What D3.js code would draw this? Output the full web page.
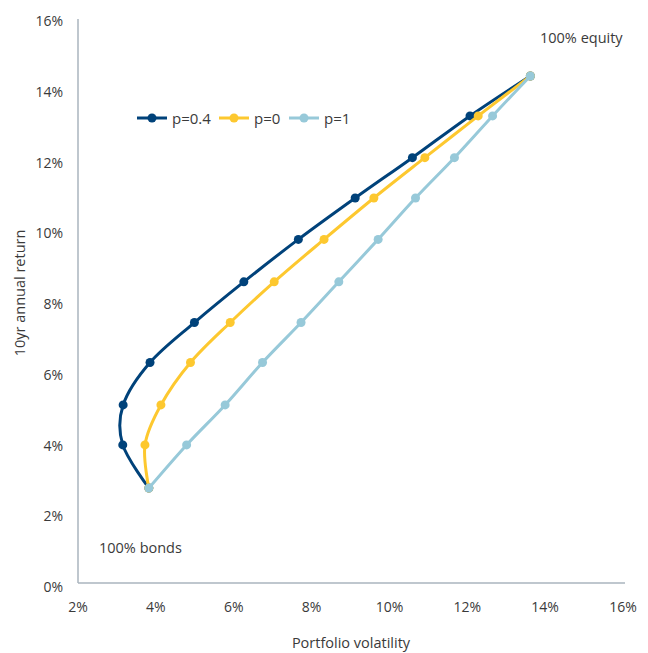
<!DOCTYPE html>
<html>
<head>
<meta charset="utf-8">
<script src="https://cdn.jsdelivr.net/npm/d3@7"></script>
<style>
  body { margin: 0; background: #fff; }
  text { font-family: "Open Sans", sans-serif; fill: #3a3a3a; }
  .axis-line { stroke: #aab4be; stroke-width: 1.5; }
</style>
</head>
<body>
<div id="container"></div>
<script>
const width = 648, height = 653

// returns (same for every correlation), 0% .. 100% equity
const returns = [2.74, 3.96, 5.09, 6.29, 7.42, 8.57, 9.77, 10.94, 12.08, 13.26, 14.39]
// portfolio volatility per correlation
const volP04 = [3.82, 3.15, 3.16, 3.85, 4.99, 6.26, 7.66, 9.12, 10.59, 12.07, 13.62]
const volP0 = [3.82, 3.72, 4.13, 4.89, 5.91, 7.04, 8.32, 9.60, 10.91, 12.28, 13.62]
const volP1 = [3.82, 4.79, 5.78, 6.74, 7.73, 8.70, 9.71, 10.67, 11.67, 12.65, 13.62]

const seriesNames = ["p=0.4", "p=0", "p=1"]
const seriesColors = ["#00427a", "#fdc82f", "#97c9d9"]

const xTicks = [2, 4, 6, 8, 10, 12, 14, 16]
const yTicks = [0, 2, 4, 6, 8, 10, 12, 14, 16]

const x = d3.scaleLinear().domain([2, 16]).range([78, 623])
const y = d3.scaleLinear().domain([0, 16]).range([585, 19])

const svg = d3.select("#container").append("svg")
    .attr("width", width)
    .attr("height", height)

// axes
svg.append("line").attr("class", "axis-line")
    .attr("x1", x(2)).attr("x2", x(2)).attr("y1", y(16)).attr("y2", y(0) - 2)
svg.append("line").attr("class", "axis-line")
    .attr("x1", x(2)).attr("x2", 625).attr("y1", y(0) - 2).attr("y2", y(0) - 2)

svg.selectAll(".ytick").data(yTicks).enter().append("text")
    .attr("class", "ytick")
    .attr("x", 63)
    .attr("y", d => y(d) + 7)
    .attr("text-anchor", "end")
    .style("font-size", "14px")
    .text(d => d + "%")

svg.selectAll(".xtick").data(xTicks).enter().append("text")
    .attr("class", "xtick")
    .attr("x", d => x(d))
    .attr("y", 612)
    .attr("text-anchor", "middle")
    .style("font-size", "14px")
    .text(d => d + "%")

svg.append("text")
    .attr("x", 351).attr("y", 648)
    .attr("text-anchor", "middle")
    .style("font-size", "14.5px")
    .text("Portfolio volatility")

svg.append("text")
    .attr("transform", "translate(25,293) rotate(-90)")
    .attr("text-anchor", "middle")
    .style("font-size", "14.5px")
    .text("10yr annual return")

svg.append("text")
    .attr("x", 540).attr("y", 43)
    .style("font-size", "14.5px")
    .text("100% equity")

svg.append("text")
    .attr("x", 99).attr("y", 553)
    .style("font-size", "14.5px")
    .text("100% bonds")

// series
const allVols = [volP04, volP0, volP1]
const line = d3.line()
    .x(d => x(d[0]))
    .y(d => y(d[1]))
    .curve(d3.curveCatmullRom.alpha(0))

allVols.forEach((vols, i) => {
    const pts = vols.map((v, j) => [v, returns[j]])
    const g = svg.append("g")
    g.append("path")
        .datum(pts)
        .attr("d", line)
        .attr("fill", "none")
        .attr("stroke", seriesColors[i])
        .attr("stroke-width", 3)
    g.selectAll("circle").data(pts).enter().append("circle")
        .attr("cx", d => x(d[0]))
        .attr("cy", d => y(d[1]))
        .attr("r", 4.5)
        .attr("fill", seriesColors[i])
})

// legend
const legendX = [137, 219, 289]
seriesNames.forEach((name, i) => {
    const g = svg.append("g").attr("transform", `translate(${legendX[i]},118)`)
    g.append("line").attr("x1", 0).attr("x2", 30).attr("y1", 0).attr("y2", 0)
        .attr("stroke", seriesColors[i]).attr("stroke-width", 3)
    g.append("circle").attr("cx", 15).attr("cy", 0).attr("r", 4.5).attr("fill", seriesColors[i])
    g.append("text").attr("x", 35).attr("y", 5.5)
        .style("font-size", "15px")
        .text(name)
})
</script>
</body>
</html>
